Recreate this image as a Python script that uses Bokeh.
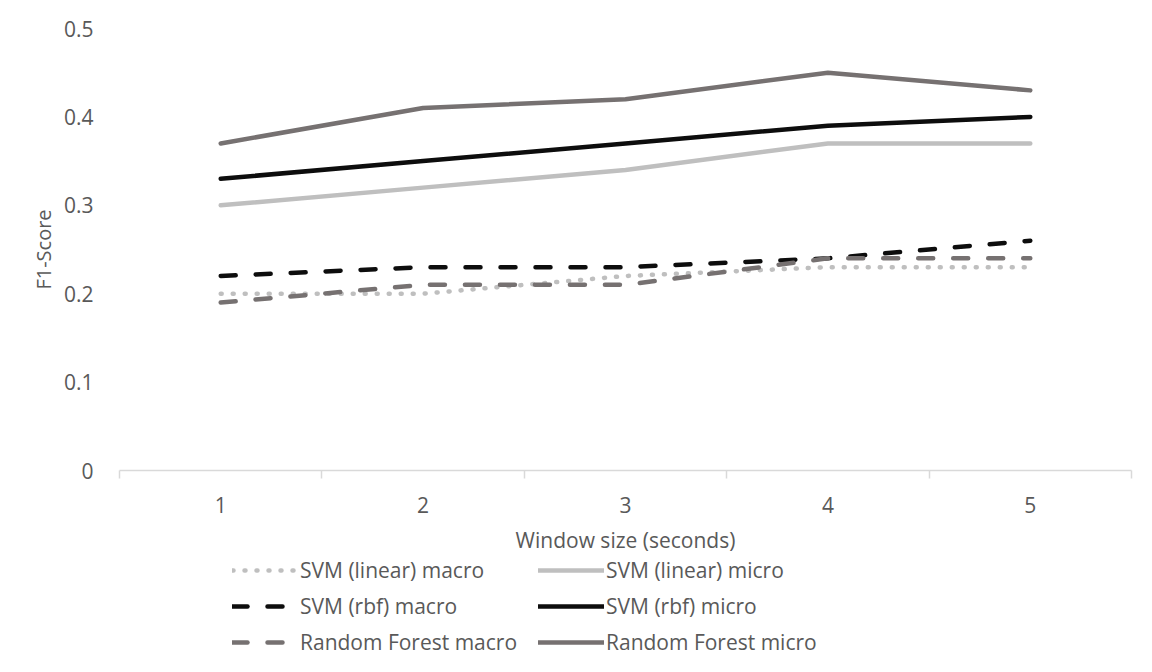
from bokeh.plotting import figure
from bokeh.models import FixedTicker, Legend, LegendItem
from bokeh.layouts import column
from bokeh.embed import file_html
from bokeh.resources import INLINE

window_sizes = [1, 2, 3, 4, 5]
x_tick_labels = ["1", "2", "3", "4", "5"]
y_ticks = [0, 0.1, 0.2, 0.3, 0.4, 0.5]
y_tick_labels = ["0", "0.1", "0.2", "0.3", "0.4", "0.5"]

svm_linear_macro = [0.20, 0.20, 0.22, 0.23, 0.23]
svm_linear_micro = [0.30, 0.32, 0.34, 0.37, 0.37]
svm_rbf_macro = [0.22, 0.23, 0.23, 0.24, 0.26]
svm_rbf_micro = [0.33, 0.35, 0.37, 0.39, 0.40]
rf_macro = [0.19, 0.21, 0.21, 0.24, 0.24]
rf_micro = [0.37, 0.41, 0.42, 0.45, 0.43]

FONT = "Open Sans"
TXT = "#595959"
FS = "21px"

series = [
    ("SVM (linear) macro", svm_linear_macro, "#BFBFBF", "1 11"),
    ("SVM (linear) micro", svm_linear_micro, "#BFBFBF", "solid"),
    ("SVM (rbf) macro", svm_rbf_macro, "#0D0D0D", "15 20"),
    ("SVM (rbf) micro", svm_rbf_micro, "#0D0D0D", "solid"),
    ("Random Forest macro", rf_macro, "#767171", "15 20"),
    ("Random Forest micro", rf_micro, "#767171", "solid"),
]

p = figure(width=1136, height=556, x_range=(0.5, 5.5), y_range=(0, 0.5),
           output_backend="svg", toolbar_location=None,
           min_border_left=119, min_border_right=5, min_border_top=28,
           min_border_bottom=85)
p.outline_line_color = None
p.grid.visible = False

for name, ys, col, dash in series:
    p.line(window_sizes, ys, line_color=col, line_width=4.5, line_dash=dash,
           line_cap="round", line_join="round")

xa = p.xaxis[0]
xa.ticker = FixedTicker(ticks=window_sizes,
                        minor_ticks=[0.5, 1.5, 2.5, 3.5, 4.5, 5.5])
xa.major_label_overrides = {w: l for w, l in zip(window_sizes, x_tick_labels)}
xa.axis_line_color = "#D9D9D9"
xa.axis_line_width = 1.5
xa.major_tick_line_color = None
xa.major_tick_out = 0
xa.major_tick_in = 0
xa.minor_tick_line_color = "#D9D9D9"
xa.minor_tick_line_width = 1.5
xa.minor_tick_out = 8
xa.minor_tick_in = 0
xa.major_label_standoff = 18
xa.major_label_text_font = FONT
xa.major_label_text_font_size = FS
xa.major_label_text_color = TXT
xa.axis_label = "Window size (seconds)"
xa.axis_label_text_font = FONT
xa.axis_label_text_font_size = FS
xa.axis_label_text_font_style = "normal"
xa.axis_label_text_color = TXT
xa.axis_label_standoff = 10

ya = p.yaxis[0]
ya.ticker = FixedTicker(ticks=y_ticks)
ya.major_label_overrides = {t: l for t, l in zip(y_ticks, y_tick_labels)}
ya.axis_line_color = None
ya.major_tick_line_color = None
ya.minor_tick_line_color = None
ya.major_tick_out = 0
ya.major_label_standoff = 26
ya.major_label_text_font = FONT
ya.major_label_text_font_size = FS
ya.major_label_text_color = TXT
ya.axis_label = "F1-Score"
ya.axis_label_text_font = FONT
ya.axis_label_text_font_size = "20px"
ya.axis_label_text_font_style = "normal"
ya.axis_label_text_color = TXT
ya.axis_label_standoff = 4

# legend panel below the chart
q = figure(width=1136, height=100, output_backend="svg", toolbar_location=None,
           x_axis_location=None, y_axis_location=None,
           min_border=0)
q.outline_line_color = None
q.grid.visible = False
items = []
for name, ys, col, dash in series:
    r = q.line(window_sizes, ys, line_color=col, line_width=4.5,
               line_dash=dash, line_cap="round", visible=False)
    items.append(LegendItem(label=name, renderers=[r]))

legend = Legend(items=items, location=(113, 0), orientation="horizontal",
                ncols=2)
legend.border_line_color = None
legend.background_fill_alpha = 0
legend.inactive_fill_alpha = 0
legend.label_text_font = FONT
legend.label_text_font_size = FS
legend.label_text_color = TXT
legend.glyph_width = 66
legend.glyph_height = 20
legend.label_height = 20
legend.label_width = 230
legend.label_standoff = 2
legend.spacing = 8
legend.padding = 0
legend.margin = 0
q.add_layout(legend, "center")

open("out.html", "w").write(file_html(column(p, q, spacing=0), INLINE))
